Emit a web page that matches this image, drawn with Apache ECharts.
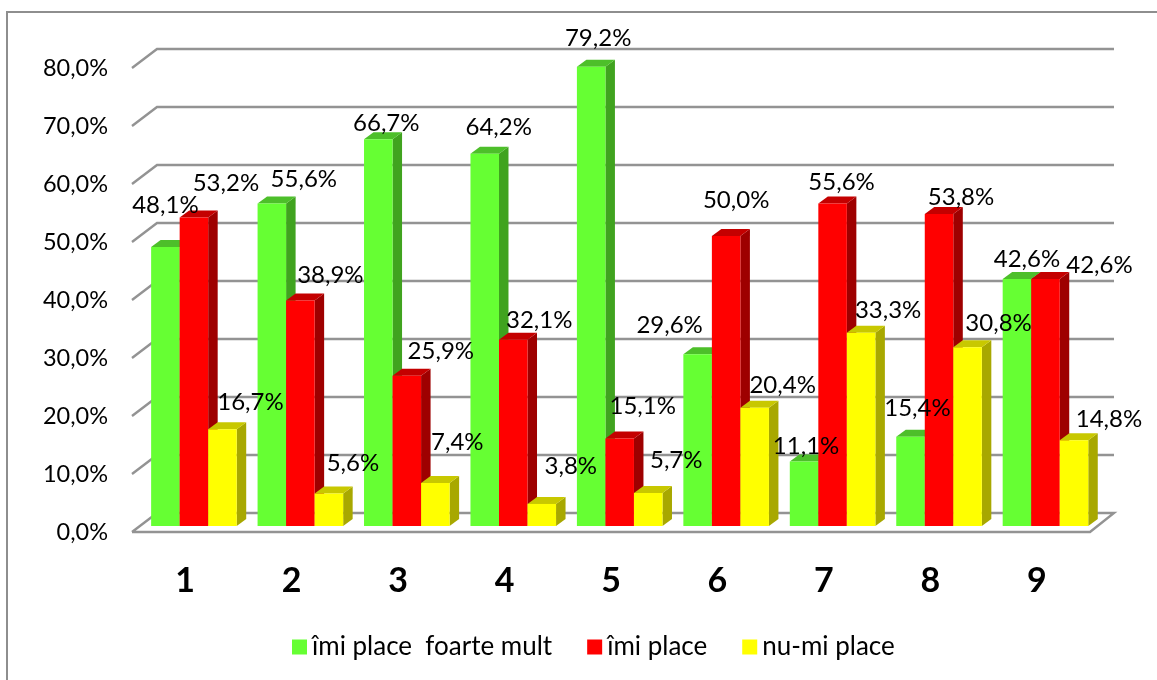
<!DOCTYPE html>
<html>
<head>
<meta charset="utf-8">
<title>chart</title>
<script src="https://cdn.jsdelivr.net/npm/echarts@6/dist/echarts.min.js"></script>
<style>
  html, body { margin: 0; padding: 0; background: #fff; }
  #chart { width: 1157px; height: 680px; }
</style>
</head>
<body>
<div id="chart"></div>
<script>
const categories = ["1", "2", "3", "4", "5", "6", "7", "8", "9"];
const seriesNames = ["îmi place  foarte mult", "îmi place", "nu-mi place"];
const veryMuch = [48.1, 55.6, 66.7, 64.2, 79.2, 29.6, 11.1, 15.4, 42.6];
const like = [53.2, 38.9, 25.9, 32.1, 15.1, 50.0, 55.6, 53.8, 42.6];
const dislike = [16.7, 5.6, 7.4, 3.8, 5.7, 20.4, 33.3, 30.8, 14.8];
const yTicks = [0, 10, 20, 30, 40, 50, 60, 70, 80];

// culori: fata, lateral, sus
const faces = [
  ["#66FF33", "#40A31F", "#4DBF2A"],
  ["#FF0000", "#9E0000", "#C40000"],
  ["#FFFF00", "#A8A800", "#C8C800"],
];

// etichetele sunt mutate manual in original, deplasare fata de varful barei
const labelNudge = [
  [[0, -42], [32, -24], [8, -16], [14, -26], [7, -28], [-28, -29], [2, -15], [7, -28], [10, -20]],
  [[32, -34], [30, -25], [34, -25], [26, -20], [23, -32], [10, -36], [9, -21], [22, -17], [54, -14]],
  [[28, -27], [24, -30], [22, -41], [29, -38], [28, -33], [28, -22], [27, -23], [31, -24], [35, -21]],
];

const FONT = "Lato, 'Open Sans', sans-serif";
const GRID_COLOR = "#939393";
const WALL_DX = 25;
const WALL_DY = 19;
const BAR_WIDTH = 0.268; // din latimea categoriei
const BAR_SHIFT = 8.7;
const BAR_LIFT = 6;
const DEPTH_X = 9.5;
const DEPTH_Y = 7;

function barRect(api, cat, val, idx) {
  const band = api.size([1, 0])[0];
  const w = band * BAR_WIDTH;
  const top = api.coord([cat, val]);
  const base = api.coord([cat, 0]);
  return {
    x: top[0] + BAR_SHIFT - w * 1.5 + w * idx,
    top: top[1] - BAR_LIFT,
    bottom: base[1] - BAR_LIFT,
    w: w,
  };
}

function renderBar(idx) {
  return function (params, api) {
    const r = barRect(api, api.value(0), api.value(1), idx);
    const c = faces[idx];
    return {
      type: "group",
      children: [
        {
          type: "polygon",
          shape: {
            points: [
              [r.x + r.w, r.top],
              [r.x + r.w + DEPTH_X, r.top - DEPTH_Y],
              [r.x + r.w + DEPTH_X, r.bottom - DEPTH_Y],
              [r.x + r.w, r.bottom],
            ],
          },
          style: { fill: c[1] },
        },
        {
          type: "polygon",
          shape: {
            points: [
              [r.x, r.top],
              [r.x + DEPTH_X, r.top - DEPTH_Y],
              [r.x + r.w + DEPTH_X, r.top - DEPTH_Y],
              [r.x + r.w, r.top],
            ],
          },
          style: { fill: c[2] },
        },
        {
          type: "rect",
          shape: { x: r.x, y: r.top, width: r.w, height: r.bottom - r.top },
          style: { fill: c[0] },
        },
      ],
    };
  };
}

function renderWall(params, api) {
  const v = api.value(0);
  const left = params.coordSys.x;
  const right = left + params.coordSys.width;
  const y = api.coord([0, v])[1];
  const points = [
    [left, y],
    [left + WALL_DX, y - WALL_DY],
    [right + WALL_DX - 1, y - WALL_DY],
  ];
  if (v === 0) {
    points.push([right, y]);
    points.push([left, y]);
  }
  return {
    type: "polyline",
    shape: { points: points },
    style: { stroke: GRID_COLOR, lineWidth: 2.4, fill: null },
  };
}

function renderLabel(params, api) {
  const idx = api.value(0);
  const cat = api.value(1);
  const val = api.value(2);
  const r = barRect(api, cat, val, idx);
  const n = labelNudge[idx][cat];
  return {
    type: "text",
    style: {
      x: r.x + r.w / 2 + n[0],
      y: r.top + n[1],
      text: val.toFixed(1).replace(".", ",") + "%",
      fill: "#000",
      font: "24px " + FONT,
      align: "center",
      verticalAlign: "middle",
    },
  };
}

const valueLists = [veryMuch, like, dislike];
const labelRows = [];
valueLists.forEach((list, s) => {
  list.forEach((v, c) => labelRows.push([s, c, v]));
});

const chart = echarts.init(document.getElementById("chart"), null, { renderer: "canvas" });
chart.setOption({
  animation: false,
  backgroundColor: "#fff",
  textStyle: { fontFamily: FONT },
  grid: { left: 132, right: 67, top: 68, bottom: 148 },
  graphic: [
    {
      // chenarul se vede doar sus si la stanga
      type: "polyline",
      shape: { points: [[7, 680], [7, 12], [1157, 12]] },
      style: { fill: null, stroke: "#8E8E8E", lineWidth: 2 },
      z: -1,
    },
  ],
  legend: {
    data: seriesNames,
    left: 292,
    top: 634,
    padding: 0,
    icon: "rect",
    itemWidth: 15,
    itemHeight: 15,
    itemGap: 35,
    textStyle: { fontFamily: FONT, fontSize: 26, color: "#000" },
    selectedMode: false,
  },
  xAxis: {
    type: "category",
    data: categories,
    axisLine: { show: false },
    axisTick: { show: false },
    axisLabel: { margin: 32, fontSize: 34, fontWeight: "bold", color: "#000", fontFamily: FONT },
  },
  yAxis: {
    type: "value",
    min: 0,
    max: 80,
    interval: 10,
    axisLine: { show: false },
    axisTick: { show: false },
    splitLine: { show: false },
    axisLabel: {
      margin: 24,
      fontSize: 23.5,
      color: "#000",
      fontFamily: FONT,
      formatter: (v) => v.toFixed(1).replace(".", ",") + "%",
    },
  },
  series: [
    {
      name: "wall",
      type: "custom",
      data: yTicks.map((t) => [t]),
      encode: { y: 0 },
      renderItem: renderWall,
      clip: false,
      silent: true,
      z: 1,
    },
    ...seriesNames.map((name, i) => ({
      name: name,
      type: "custom",
      data: valueLists[i].map((v, c) => [c, v]),
      encode: { x: 0, y: 1 },
      renderItem: renderBar(i),
      itemStyle: { color: faces[i][0] },
      clip: false,
      silent: true,
      z: 2,
    })),
    {
      name: "labels",
      type: "custom",
      data: labelRows,
      encode: { x: 1, y: 2 },
      renderItem: renderLabel,
      clip: false,
      silent: true,
      z: 5,
    },
  ],
});
</script>
</body>
</html>
